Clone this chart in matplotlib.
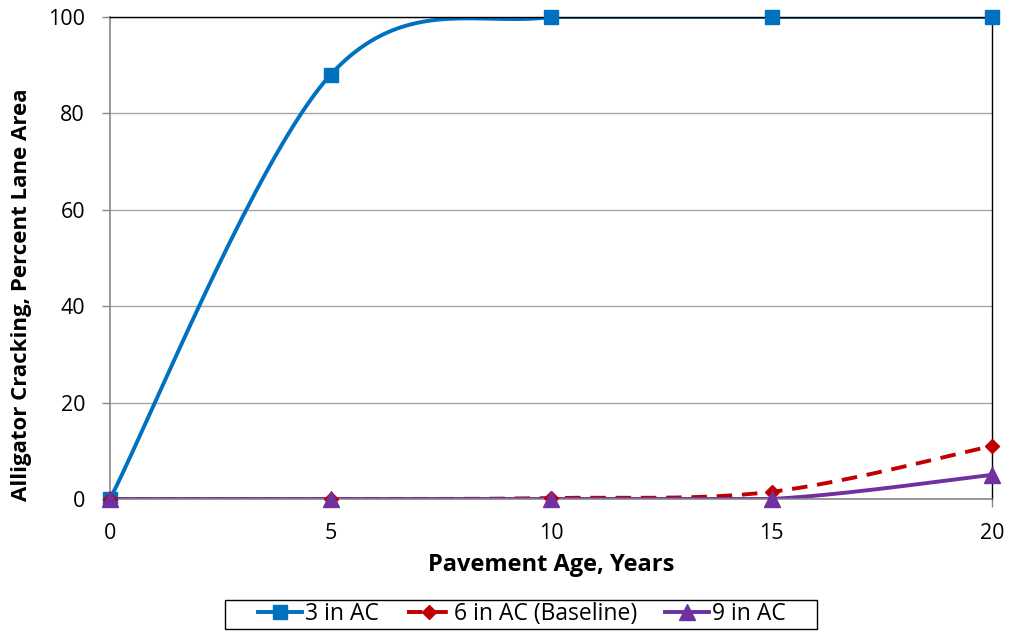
import numpy as np
import matplotlib.pyplot as plt
from matplotlib.lines import Line2D
from matplotlib.patches import Rectangle

years = [0, 5, 10, 15, 20]
ac3 = [0, 88, 100, 100, 100]
ac6 = [0, 0, 0.2, 1.5, 11]
ac9 = [0, 0, 0, 0, 5]

W, H = 1011, 632


def smooth(xs, ys, n=40):
    # Excel-like smoothed line: Catmull-Rom bezier; flat segments stay flat
    xs = np.asarray(xs, float)
    ys = np.asarray(ys, float)
    px = np.concatenate([[xs[0]], xs, [xs[-1]]])
    py = np.concatenate([[ys[0]], ys, [ys[-1]]])
    outx, outy = [], []
    for i in range(1, len(px) - 2):
        p0 = np.array([px[i], py[i]])
        p3 = np.array([px[i + 1], py[i + 1]])
        c1 = p0 + (p3 - np.array([px[i - 1], py[i - 1]])) / 6
        c2 = p3 - (np.array([px[i + 2], py[i + 2]]) - p0) / 6
        if p0[1] == p3[1]:
            c1[1] = c2[1] = p0[1]
        t = np.linspace(0, 1, n)[:, None]
        b = (1 - t) ** 3 * p0 + 3 * t * (1 - t) ** 2 * c1 + 3 * t ** 2 * (1 - t) * c2 + t ** 3 * p3
        outx.extend(b[:, 0])
        outy.extend(b[:, 1])
    return np.array(outx), np.array(outy)


plt.rcParams['font.family'] = ['Open Sans', 'DejaVu Sans']

fig = plt.figure(figsize=(W / 100, H / 100), dpi=100)
ax = fig.add_axes([110 / W, 1 - 499 / H, 882 / W, 482 / H])

series = [
    (ac3, '#0070C0', '-', 's', 10, '3 in AC'),
    (ac6, '#C00000', (0, (4, 2.5)), 'D', 7.5, '6 in AC (Baseline)'),
    (ac9, '#7030A0', '-', '^', 11, '9 in AC'),
]
handles = []
for ys, col, ls, mk, ms, lab in series:
    sx, sy = smooth(years, ys)
    ax.plot(sx, sy, color=col, lw=2.8, ls=ls, zorder=2)
    ax.plot(years, ys, ls='none', marker=mk, ms=ms, color=col, zorder=4, clip_on=False)
    handles.append(Line2D([0], [0], color=col, lw=2.8, ls=ls, marker=mk, ms=ms, label=lab))

ax.set_xlim(0, 20)
ax.set_ylim(0, 100)
ax.set_xticks([0, 5, 10, 15, 20])
ax.set_yticks([0, 20, 40, 60, 80, 100])
ax.yaxis.grid(True, color='#A6A6A6', lw=1, zorder=1)
ax.set_axisbelow(True)
for s in ['left', 'bottom']:
    ax.spines[s].set_color('#868686')
    ax.spines[s].set_linewidth(1.2)
for s in ['top', 'right']:
    ax.spines[s].set_color('black')
    ax.spines[s].set_linewidth(1)
for sp in ax.spines.values():
    sp.set_zorder(3)
ax.tick_params(axis='both', colors='#868686', labelcolor='black', labelsize=15.5, length=6, width=1)
ax.tick_params(axis='x', pad=11)
ax.tick_params(axis='y', pad=12)

ax.set_xlabel('Pavement Age, Years', fontsize=17, fontweight='bold')
ax.set_ylabel('Alligator Cracking, Percent Lane Area', fontsize=16, fontweight='bold')
ax.xaxis.set_label_coords(0.5, -(565 - 499) / 482, transform=ax.transAxes)
ax.xaxis.label.set_va('center')
ax.yaxis.set_label_coords(-(110 - 22) / 882, (499 - 295) / 482)
ax.yaxis.label.set_va('center')

# legend box drawn separately to match the reference frame
fig.patches.append(Rectangle((225 / W, 1 - 629 / H), 592 / W, 29 / H, transform=fig.transFigure,
                             fill=False, edgecolor='black', lw=1))
fig.legend(handles=handles, loc='center', bbox_to_anchor=(522 / W, 1 - 614 / H), ncol=3,
           fontsize=16.5, frameon=False, handlelength=1.9, handletextpad=0.12,
           columnspacing=1.25, borderpad=0)

fig.savefig('out.png', dpi=100)
